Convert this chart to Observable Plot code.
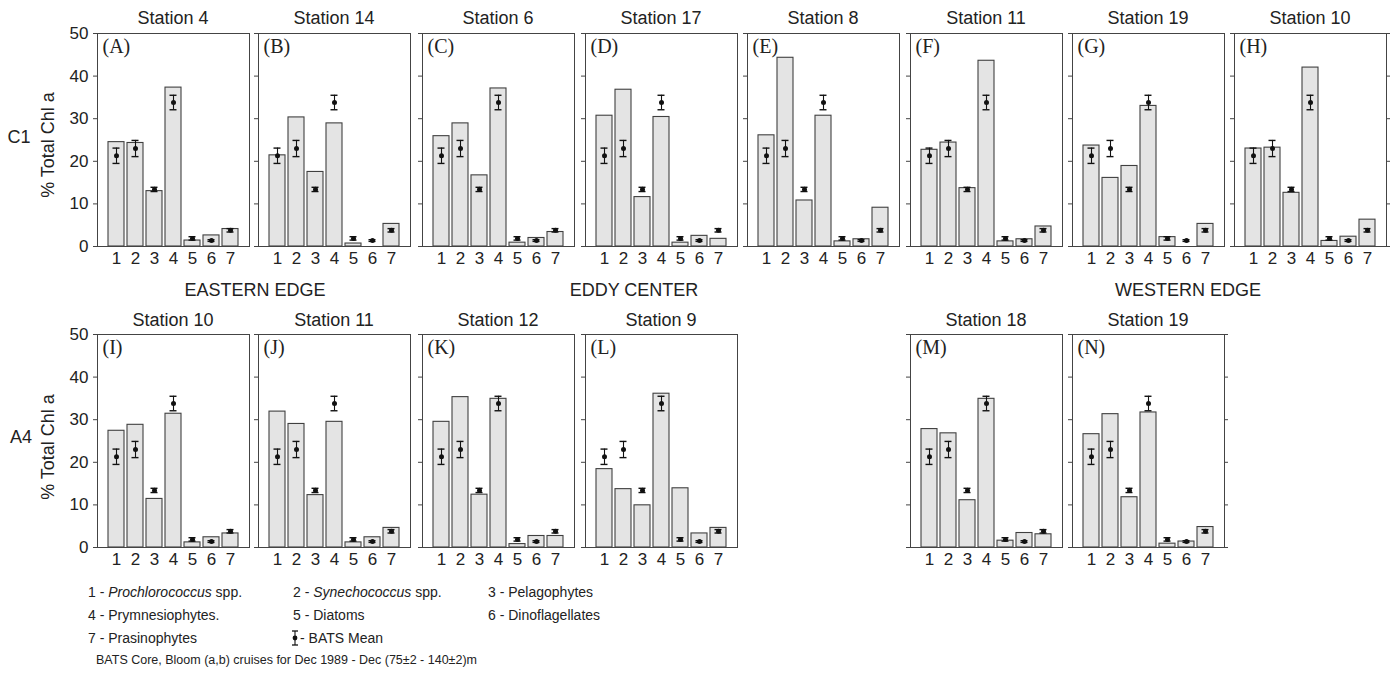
<!DOCTYPE html>
<html><head><meta charset="utf-8">
<script src="https://cdn.jsdelivr.net/npm/d3@7"></script>
<script src="https://cdn.jsdelivr.net/npm/@observablehq/plot@0.6"></script>
<style>
body{margin:0;background:#fff;font-family:"Liberation Sans",Arial,sans-serif;color:#222}
#c{position:relative;width:1396px;height:674px;overflow:hidden;background:#fff}
.t{position:absolute;white-space:nowrap;line-height:1;transform:translate(-50%,-50%)}
.l{position:absolute;white-space:nowrap;line-height:1;transform:translate(0,-50%);font-size:14px}
</style></head><body><div id="c"></div>
<script>
// ---- data ----
const groups = ["1","2","3","4","5","6","7"];
const batsMean = [21.3, 23.0, 13.4, 33.8, 1.9, 1.4, 3.8];
const batsErr  = [1.8, 1.9, 0.5, 1.7, 0.4, 0.2, 0.4];

const topStations = ["Station 4","Station 14","Station 6","Station 17","Station 8","Station 11","Station 19","Station 10"];
const topLetters  = ["(A)","(B)","(C)","(D)","(E)","(F)","(G)","(H)"];
const valA = [24.5, 24.3, 13.0, 37.3, 1.4, 2.6, 4.1];
const valB = [21.4, 30.3, 17.5, 28.9, 0.7, 0.0, 5.3];
const valC = [25.9, 28.9, 16.7, 37.1, 0.9, 2.0, 3.4];
const valD = [30.7, 36.8, 11.6, 30.4, 0.9, 2.5, 1.8];
const valE = [26.1, 44.3, 10.8, 30.7, 1.2, 1.7, 9.1];
const valF = [22.7, 24.4, 13.7, 43.6, 1.2, 1.7, 4.7];
const valG = [23.7, 16.1, 18.9, 33.0, 2.2, 0.0, 5.3];
const valH = [23.0, 23.2, 12.6, 42.0, 1.3, 2.3, 6.3];

const bottomStations = ["Station 10","Station 11","Station 12","Station 9","Station 18","Station 19"];
const bottomLetters  = ["(I)","(J)","(K)","(L)","(M)","(N)"];
const valI = [27.4, 28.8, 11.4, 31.4, 1.2, 2.4, 3.3];
const valJ = [31.9, 29.0, 12.3, 29.5, 1.2, 2.4, 4.6];
const valK = [29.5, 35.3, 12.4, 34.9, 0.8, 2.7, 2.7];
const valL = [18.4, 13.7, 9.9, 36.1, 13.9, 3.3, 4.6];
const valM = [27.8, 26.8, 11.1, 34.9, 1.6, 3.4, 3.1];
const valN = [26.6, 31.3, 11.8, 31.7, 0.9, 1.4, 4.8];

const yTicks = [0, 10, 20, 30, 40, 50];
const rowNames = ["C1", "A4"];
const yLabel = "% Total Chl a";
const regionLabels = ["EASTERN EDGE", "EDDY CENTER", "WESTERN EDGE"];
const legendItems = [
  "1 - <i>Prochlorococcus</i> spp.", "2 - <i>Synechococcus</i> spp.", "3 - Pelagophytes",
  "4 - Prymnesiophytes.", "5 - Diatoms", "6 - Dinoflagellates",
  "7 - Prasinophytes"
];
const legendMean = "- BATS Mean";
const footnote = "BATS Core, Bloom (a,b) cruises for Dec 1989 - Dec (75\u00b12 - 140\u00b12)m";

// ---- layout ----
const C = document.getElementById("c");
const colLeft = [97, 258, 422, 585, 747, 910, 1072, 1234];
const panelW = 152, panelH = 213, rowTop = [33, 334];
const ml = 40, mr = 8, mt = 6, mb = 30;
const batsRows = groups.map((g, i) => ({g, m: batsMean[i], e: batsErr[i]}));

function addText(cls, html, x, y, style) {
  const d = document.createElement("div");
  d.className = cls; d.innerHTML = html;
  d.style.left = x + "px"; d.style.top = y + "px";
  Object.assign(d.style, style || {});
  C.appendChild(d);
  return d;
}

function panel(values, letter, showLabels, rightTicks) {
  const rows = groups.map((g, i) => ({g, v: values[i]}));
  const ink = "#111";
  const marks = [
    Plot.barY(rows, {x: "g", y: "v", fill: "#e4e4e4", stroke: "#404040", strokeWidth: 1.1}),
    Plot.ruleX(batsRows, {x: "g", y1: d => d.m - d.e, y2: d => d.m + d.e, stroke: ink, strokeWidth: 1.1}),
    Plot.tickY(batsRows, {x: "g", y: d => d.m + d.e, insetLeft: 4.5, insetRight: 4.5, stroke: ink, strokeWidth: 1.4}),
    Plot.tickY(batsRows, {x: "g", y: d => d.m - d.e, insetLeft: 4.5, insetRight: 4.5, stroke: ink, strokeWidth: 1.4}),
    Plot.dot(batsRows, {x: "g", y: "m", r: 2.5, fill: ink, stroke: "none"}),
    Plot.frame({stroke: "#444", strokeWidth: 1}),
    Plot.axisY({ticks: yTicks, tickSize: 4, tickPadding: 5, fontSize: 17, label: null, stroke: "#444",
                tickFormat: showLabels ? (d => String(d)) : (() => "")}),
    Plot.axisX({tickSize: 0, tickPadding: 5, fontSize: 17, label: null}),
    Plot.text([letter], {frameAnchor: "top-left", dx: 5, dy: 5, text: d => d,
               fontFamily: "'Liberation Serif', 'DejaVu Serif', serif", fontSize: 20, fill: "#222"})
  ];
  if (rightTicks) marks.push(Plot.axisY({anchor: "right", ticks: yTicks, tickSize: 3, tickFormat: () => "", label: null, stroke: "#444"}));
  return Plot.plot({
    width: panelW + ml + mr, height: panelH + mt + mb,
    marginLeft: ml, marginRight: mr, marginTop: mt, marginBottom: mb,
    x: {type: "band", domain: groups, paddingInner: 0.17, paddingOuter: 0.52},
    y: {domain: [0, 50]},
    style: {background: "transparent", overflow: "visible", fontFamily: "'Liberation Sans', Arial, sans-serif", color: "#222"},
    marks
  });
}

function place(svg, col, row) {
  svg.style.position = "absolute";
  svg.style.left = (colLeft[col] - ml) + "px";
  svg.style.top = (rowTop[row] - mt) + "px";
  C.appendChild(svg);
}

const topVals = [valA, valB, valC, valD, valE, valF, valG, valH];
topVals.forEach((v, i) => {
  place(panel(v, topLetters[i], i === 0, i === 7), i, 0);
  addText("t", topStations[i], colLeft[i] + panelW / 2, 18, {fontSize: "18px"});
});
const bottomVals = [valI, valJ, valK, valL, valM, valN];
const bottomCols = [0, 1, 2, 3, 5, 6];
bottomVals.forEach((v, i) => {
  const col = bottomCols[i];
  place(panel(v, bottomLetters[i], i === 0, i === 5), col, 1);
  addText("t", bottomStations[i], colLeft[col] + panelW / 2, 320, {fontSize: "18px"});
});

// row labels
addText("t", rowNames[0], 19, 137, {fontSize: "18px"});
addText("t", yLabel, 48, 145, {fontSize: "18px", transform: "translate(-50%,-50%) rotate(-90deg)"});
addText("t", rowNames[1], 21, 437, {fontSize: "18px"});
addText("t", yLabel, 48, 447, {fontSize: "18px", transform: "translate(-50%,-50%) rotate(-90deg)"});

// region labels
const regionX = [255, 634, 1188];
regionLabels.forEach((t, i) => addText("t", t, regionX[i], 290, {fontSize: "18px"}));

// legend
const legX = [88, 293, 488], legY = [592, 615, 638];
legendItems.forEach((t, i) => addText("l", t, legX[i % 3], legY[Math.floor(i / 3)]));
addText("l", legendMean, 300, legY[2]);
const sym = document.createElementNS("http://www.w3.org/2000/svg", "svg");
sym.setAttribute("width", 10); sym.setAttribute("height", 18);
sym.style.position = "absolute"; sym.style.left = "290px"; sym.style.top = (legY[2] - 9) + "px";
sym.innerHTML = '<line x1="5" x2="5" y1="2" y2="16" stroke="#111" stroke-width="1.1"/>' +
  '<line x1="2" x2="8" y1="2" y2="2" stroke="#111" stroke-width="1.3"/>' +
  '<line x1="2" x2="8" y1="16" y2="16" stroke="#111" stroke-width="1.3"/>' +
  '<circle cx="5" cy="9" r="2.4" fill="#111"/>';
C.appendChild(sym);
addText("l", footnote, 96, 660, {fontSize: "12.5px"});
</script></body></html>
